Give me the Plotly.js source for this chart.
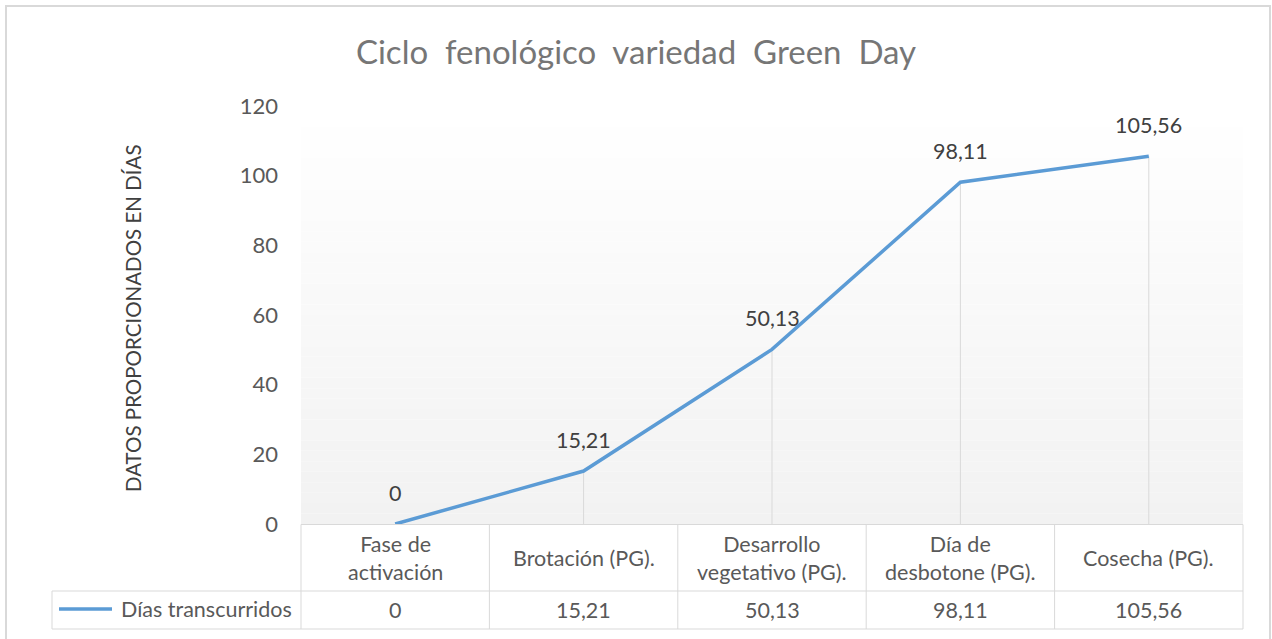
<!DOCTYPE html>
<html><head><meta charset="utf-8">
<script src="https://cdn.plot.ly/plotly-3.0.1.min.js"></script>
<style>html,body{margin:0;padding:0;background:#fff}#chart{width:1272px;height:639px}</style>
</head><body><div id="chart"></div><script>
// ---- data ----
const categories = ["Fase de activación", "Brotación (PG).", "Desarrollo vegetativo (PG).", "Día de desbotone (PG).", "Cosecha (PG)."];
const categoryLabels = ["Fase de<br>activación", "Brotación (PG).", "Desarrollo<br>vegetativo (PG).", "Día de<br>desbotone (PG).", "Cosecha (PG)."];
const seriesName = "Días transcurridos";
const values = [0, 15.21, 50.13, 98.11, 105.56];
const yTicks = [0, 20, 40, 60, 80, 100, 120];
const chartTitle = "Ciclo\u00A0 fenológico\u00A0 variedad\u00A0 Green\u00A0 Day";
const yTitle = "DATOS PROPORCIONADOS EN DÍAS";

// ---- layout geometry (pixels) ----
const W = 1272, H = 639, L = 301, R = 1243, T = 106, B = 524;
const px = x => (x - L) / (R - L);
const py = y => (B - y) / (B - T);
const fmt = v => String(v).replace('.', ',');
const FONT = 'Lato, "Noto Sans", sans-serif';
const GRID = '#d9d9d9';
const TXT = '#595959';
const BLUE = '#5b9bd5';

const n = categories.length;
const colX = i => (i + 0.5) / n;
const colEdge = i => i / n;

// drop lines from the data
const dropX = [], dropY = [];
categories.forEach((c, i) => { dropX.push(c, c, null); dropY.push(values[i], 0, null); });

const traces = [
  { x: dropX, y: dropY, mode: 'lines', line: { color: GRID, width: 1 }, hoverinfo: 'skip', showlegend: false, cliponaxis: false },
  { x: categories, y: values, name: seriesName, mode: 'lines', line: { color: BLUE, width: 3.5 }, showlegend: false, cliponaxis: false }
];

const shapes = [];
const bands = 40;
for (let k = 0; k < bands; k++) {
  const t = k / (bands - 1);
  const g = Math.round(242 + (255 - 242) * t);
  shapes.push({ type: 'rect', xref: 'paper', yref: 'paper', x0: 0, x1: 1, y0: k / bands, y1: (k + 1) / bands,
    fillcolor: `rgb(${g},${g},${g})`, line: { width: 0 }, layer: 'below' });
}
const line = (x0, y0, x1, y1, color, width) => shapes.push({ type: 'line', xref: 'paper', yref: 'paper',
  x0: px(x0), y0: py(y0), x1: px(x1), y1: py(y1), line: { color: color || GRID, width: width || 1 } });
line(L, 524.5, R, 524.5);
line(52, 591, R, 591);
line(52, 629, R, 629);
line(52, 591, 52, 629);
for (let i = 0; i <= n; i++) {
  const x = L + colEdge(i) * (R - L);
  line(x, 524.5, x, 629);
}
line(59, 609, 112, 609, BLUE, 3.5);
shapes.push({ type: 'rect', xref: 'paper', yref: 'paper', x0: px(6), x1: px(1270), y0: py(6), y1: py(660),
  line: { color: GRID, width: 2 }, fillcolor: 'rgba(0,0,0,0)' });

const annotations = [];
categories.forEach((c, i) => annotations.push({ x: c, y: values[i], xref: 'x', yref: 'y', text: fmt(values[i]),
  showarrow: false, yshift: 31, yanchor: 'middle', font: { family: FONT, size: 21.5, color: '#404040' } }));
categoryLabels.forEach((t, i) => annotations.push({ x: colX(i), y: py(557.5), xref: 'paper', yref: 'paper', text: t,
  showarrow: false, yanchor: 'middle', xanchor: 'center', font: { family: FONT, size: 21.5, color: TXT } }));
values.forEach((v, i) => annotations.push({ x: colX(i), y: py(610), xref: 'paper', yref: 'paper', text: fmt(v),
  showarrow: false, yanchor: 'middle', xanchor: 'center', font: { family: FONT, size: 21.5, color: TXT } }));
annotations.push({ x: px(294), y: py(609), xref: 'paper', yref: 'paper', text: seriesName, showarrow: false,
  xanchor: 'right', yanchor: 'middle', font: { family: FONT, size: 21.5, color: TXT } });
annotations.push({ x: px(133), y: py(318), xref: 'paper', yref: 'paper', text: yTitle, showarrow: false, textangle: -90,
  xanchor: 'center', yanchor: 'middle', font: { family: FONT, size: 20.5, color: '#404040' } });

const layout = {
  width: W, height: H,
  margin: { l: L, r: W - R, t: T, b: H - B, pad: 0 },
  paper_bgcolor: '#ffffff', plot_bgcolor: 'rgba(0,0,0,0)',
  title: { text: chartTitle, x: 0.5, xref: 'container', xanchor: 'center', y: 1 - 52 / H, yref: 'container', yanchor: 'middle',
    font: { family: FONT, size: 33, color: '#767676' } },
  xaxis: { type: 'category', categoryorder: 'array', categoryarray: categories, range: [-0.5, n - 0.5],
    showticklabels: false, showgrid: false, zeroline: false, showline: false, ticks: '' },
  yaxis: { range: [0, 120], tickvals: yTicks, ticktext: yTicks.map(String), showgrid: false, zeroline: false, showline: false,
    ticks: '', ticklabelstandoff: 22, tickfont: { family: FONT, size: 22, color: TXT } },
  shapes, annotations, showlegend: false
};

Plotly.newPlot('chart', traces, layout, { staticPlot: true, displayModeBar: false });
</script></body></html>
